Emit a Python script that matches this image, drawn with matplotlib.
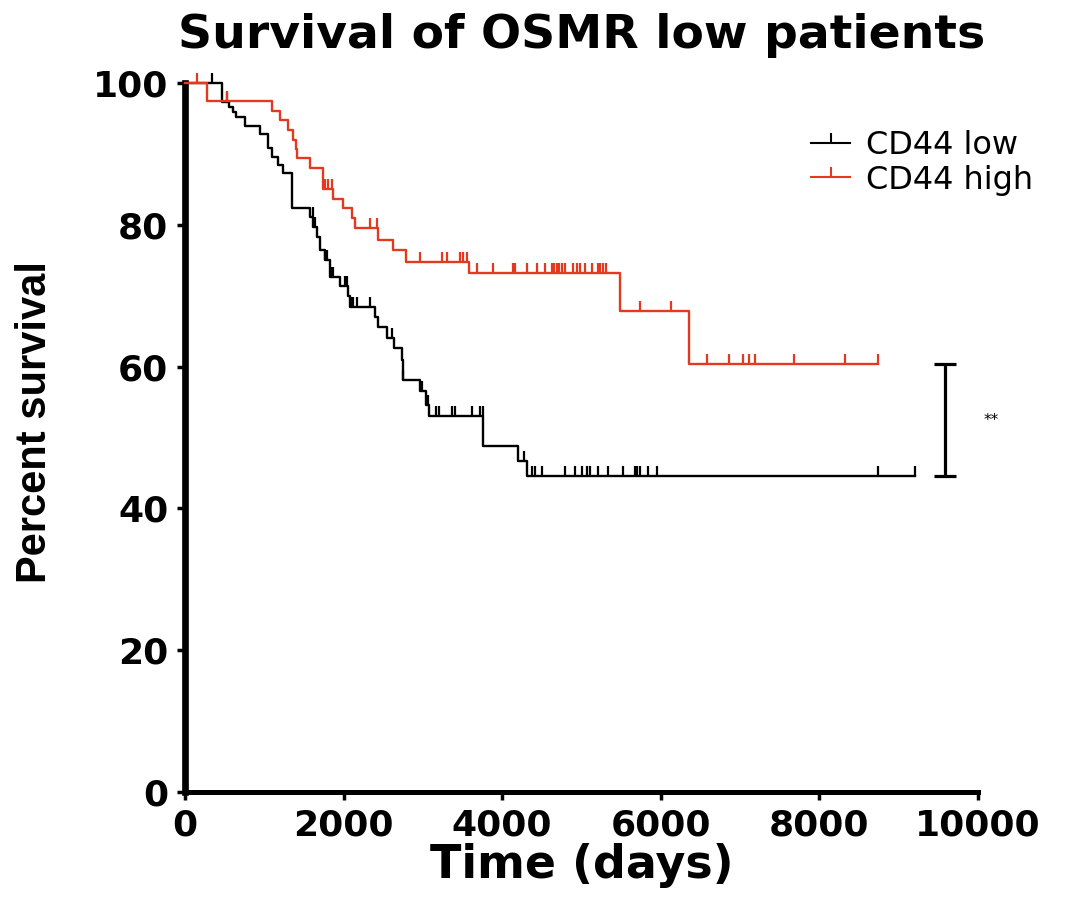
import numpy as np
import matplotlib
matplotlib.use("Agg")
import matplotlib.pyplot as plt
from matplotlib.lines import Line2D

# --- dados (tempo em dias, sobrevivência em %) ---
low_tempos = [0, 470, 560, 600, 640, 757, 946, 1051, 1093, 1177, 1240, 1345, 1350,
              1580, 1620, 1660, 1700, 1765, 1828, 1955, 2060, 2080, 2396, 2440,
              2545, 2630, 2735, 2745, 2963, 3040, 3081, 3762, 4203, 4309]
low_surv = [100, 97.3, 96.6, 95.9, 95.2, 94.0, 92.8, 90.8, 89.6, 88.4, 87.3, 84.7, 82.3,
            81.1, 79.7, 78.3, 76.4, 75.0, 72.7, 71.3, 69.9, 68.4, 67.0, 65.6,
            64.0, 62.6, 60.9, 58.1, 56.5, 54.6, 53.0, 48.8, 46.7, 44.5]
low_fim = 9205
low_censura = [340, 530, 1610, 1640, 1765, 1787, 1850, 1870, 2017, 2040, 2102, 2123,
               2165, 2333, 2606, 2752, 2990, 3060, 3165, 3207, 3363, 3405, 3615, 3720,
               3754, 4280, 4372, 4414, 4498, 4792, 4918, 5002, 5065, 5107, 5212, 5338,
               5527, 5674, 5704, 5737, 5842, 5948, 8743, 9205]

high_tempos = [0, 273, 1093, 1198, 1303, 1366, 1400, 1408, 1576, 1740, 1862, 1996,
               2102, 2144, 2430, 2627, 2790, 3585, 5480, 6350]
high_surv = [100, 97.4, 96.0, 94.8, 93.4, 92.0, 90.7, 89.4, 88.0, 85.1, 83.7, 82.3,
             80.9, 79.5, 77.9, 76.4, 74.8, 73.2, 67.9, 60.4]
high_fim = 8743
high_censura = [147, 536, 1765, 1808, 1850, 2333, 2417, 2963, 3237, 3300, 3468, 3510,
                3552, 3678, 3888, 4140, 4161, 4309, 4443, 4540, 4624, 4653, 4687, 4720,
                4750, 4792, 4897, 4939, 4981, 5044, 5128, 5212, 5233, 5267, 5309, 5733,
                6125, 6578, 6864, 7033, 7116, 7188, 7680, 8323, 8743]

grupos = ['CD44 low', 'CD44 high']
cores = ['black', '#e5391f']
p_valor = '**'


def nivel(tempos, surv, t):
    i = np.searchsorted(tempos, t, side='right') - 1
    return np.array(surv)[i]


fig = plt.figure(figsize=(10.78, 8.99), dpi=100)
ax = fig.add_axes([0.1716, 0.119, 0.7356, 0.7887])

series = [(low_tempos, low_surv, low_fim, low_censura),
          (high_tempos, high_surv, high_fim, high_censura)]

for (tempos, surv, fim, cens), cor in zip(series, cores):
    xs = list(tempos) + [fim]
    ys = list(surv) + [surv[-1]]
    ax.step(xs, ys, where='post', color=cor, lw=1.7, clip_on=False, zorder=3)
    ax.plot(cens, nivel(tempos, surv, cens), linestyle='none', marker=2,
            markersize=7.5, markeredgewidth=1.6, color=cor, clip_on=False, zorder=3)

# barra de significância
xb = 9584
y0, y1 = low_surv[-1], high_surv[-1]
ax.vlines(xb, y0, y1, color='black', lw=2.3, clip_on=False)
ax.hlines([y0, y1], xb - 140, xb + 140, color='black', lw=2.3, clip_on=False)
ax.text(10165, (y0 + y1) / 2, p_valor, fontsize=11, ha='center', va='center',
        clip_on=False)

ax.set_xlim(0, 10000)
ax.set_ylim(0, 100)
ax.set_xticks(range(0, 10001, 2000))
ax.set_yticks(range(0, 101, 20))
for s in ['top', 'right']:
    ax.spines[s].set_visible(False)
ax.spines['left'].set_linewidth(4.8)
ax.spines['bottom'].set_linewidth(3.6)
ax.tick_params(axis='both', direction='out', length=6, width=2.5, pad=6)
for lab in ax.get_xticklabels() + ax.get_yticklabels():
    lab.set_fontfamily('DejaVu Sans')
    lab.set_fontweight('bold')
    lab.set_fontsize(26)

ax.set_xlabel('Time (days)', fontsize=33, fontweight='bold', family='DejaVu Sans',
              labelpad=0)
ax.set_ylabel('Percent survival', fontsize=30, fontweight='bold',
              family=['Liberation Sans', 'DejaVu Sans'])
ax.yaxis.set_label_coords(-0.164, 0.522)
fig.text(0.54, 0.96, 'Survival of OSMR low patients', fontsize=34,
         fontweight='bold', family='DejaVu Sans', ha='center', va='center')

alcas = [Line2D([0], [0], color=c, lw=1.5, marker=2, markersize=7,
                markeredgewidth=1.5) for c in cores]
ax.legend(alcas, grupos, loc='upper left', bbox_to_anchor=(0.79, 0.933),
          frameon=False, fontsize=23, handlelength=1.2, handletextpad=0.5,
          labelspacing=0.1, borderpad=0, borderaxespad=0)

fig.savefig('out.png', dpi=100)
